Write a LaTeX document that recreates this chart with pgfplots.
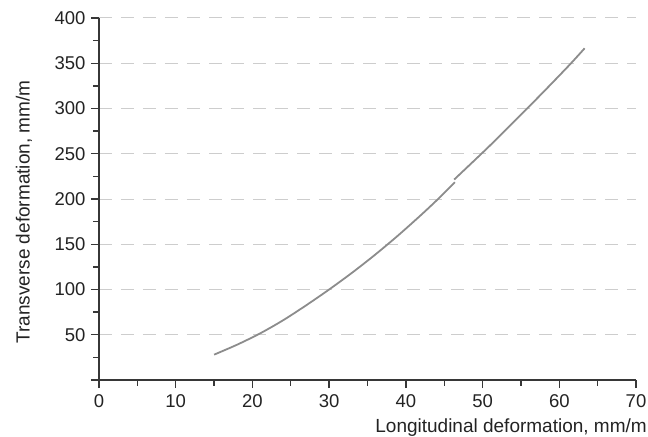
\documentclass[border=0pt]{standalone}
\usepackage{fontspec}
\setmainfont{Liberation Sans}
\usepackage{pgfplots}
\pgfplotsset{compat=1.18}
\definecolor{axcol}{RGB}{55,55,55}
\definecolor{txtcol}{RGB}{35,35,35}
\definecolor{gridcol}{RGB}{205,205,205}
\definecolor{curvecol}{RGB}{140,140,140}
\begin{document}
\begin{tikzpicture}
\begin{axis}[
  scale only axis,
  width=537bp, height=362bp,
  xmin=0, xmax=70, ymin=0, ymax=400,
  axis x line=bottom, axis y line=left,
  axis line style={-, axcol, line width=1.5bp},
  xtick={0,10,...,70},
  ytick={0,50,...,400},
  yticklabels={{},50,100,150,200,250,300,350,400},
  minor x tick num=1, minor y tick num=1,
  tick align=outside,
  major tick length=8bp, minor tick length=5.5bp,
  every tick/.style={axcol, line width=1.3bp},
  ymajorgrids,
  major grid style={gridcol, line width=1bp, dash pattern=on 13bp off 9bp},
  /pgf/number format/assume math mode=true,
  ticklabel style={font=\fontsize{18.5bp}{21bp}\selectfont, text=txtcol},
  xticklabel style={yshift=-3bp},
  yticklabel style={xshift=-2bp},
  xlabel={Longitudinal deformation, mm/m},
  ylabel={Transverse deformation, mm/m},
  label style={font=\fontsize{19bp}{22bp}\selectfont, text=txtcol, inner sep=0pt},
  xlabel style={at={(rel axis cs:1,0)}, anchor=base east, xshift=11bp, yshift=-52bp},
  ylabel style={at={(rel axis cs:0,0.464)}, anchor=center, yshift=75bp},
  clip=false,
]
\addplot[curvecol, line width=1.8bp, smooth] coordinates {
(15,28) (18,39) (21,51.5) (24,66) (27,82.5) (30,100) (33,118.6) (36,138.5) (39,159.8) (42,182.5) (44.2,200) (46.4,218.5)
};
\addplot[curvecol, line width=1.8bp, smooth] coordinates {
(46.3,221.5) (49.9,250.4) (52,267.7) (55.8,299.9) (58.6,324.1) (61.4,348.8) (63.3,366.5)
};
\end{axis}
\pgfresetboundingbox
\path[use as bounding box] (current axis.south west) ++(-99bp,-57bp) rectangle ([xshift=12bp,yshift=18bp]current axis.north east);
\end{tikzpicture}
\end{document}
